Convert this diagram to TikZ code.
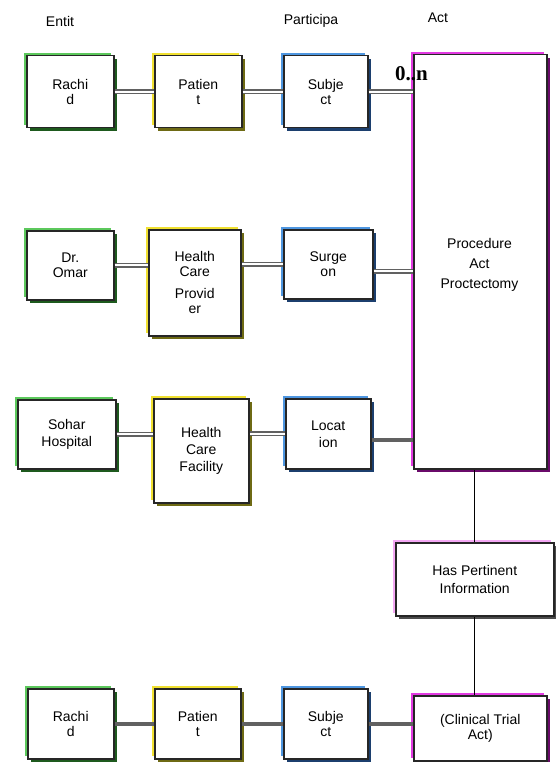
\documentclass[tikz,border=0pt]{standalone}
\usepackage{fontspec}
\setmainfont{Liberation Sans}
\newfontfamily\multfont{Liberation Serif}
\usetikzlibrary{shadows}

% role-class colours: light edge (top left) and dark edge (bottom right)
\definecolor{entLt}{HTML}{5CC85C}
\definecolor{entDk}{HTML}{1E5A1E}
\definecolor{rolLt}{HTML}{F0E030}
\definecolor{rolDk}{HTML}{6E6A14}
\definecolor{parLt}{HTML}{4E96E0}
\definecolor{parDk}{HTML}{1C3F6E}
\definecolor{actLt}{HTML}{E23AE2}
\definecolor{actDk}{HTML}{6A0A6A}
\definecolor{relLt}{HTML}{F4A8F4}

\newcommand\bxfont{\fontsize{14}{15}\selectfont}

\begin{document}
\begin{tikzpicture}[x=1pt,y=-1pt,
  hdr/.style={font=\bxfont, inner sep=0pt},
  box/.style={draw=black!85, line width=1.5pt, fill=white, inner sep=0pt,
    align=center, font=\bxfont, anchor=north west},
  tinted/.style 2 args={
    general shadow={fill=#1, shadow xshift=-2.8pt, shadow yshift=2.8pt},
    general shadow={fill=#2, shadow xshift=2.8pt, shadow yshift=-2.8pt}},
  entity/.style={box, tinted={entLt}{entDk}},
  role/.style={box, tinted={rolLt}{rolDk}},
  partic/.style={box, tinted={parLt}{parDk}},
  actbox/.style={box, tinted={actLt}{actDk}},
  relbox/.style={box, tinted={relLt}{black!70}},
  dbl/.style={draw=black!62, double=white, double distance=2.4pt, line width=1.4pt},
  heavy/.style={draw=black!62, line width=3.8pt},
  vline/.style={draw=black, line width=1pt},
  mult/.style={font=\multfont\bfseries\fontsize{21}{21}\selectfont, inner sep=0pt}
]
\useasboundingbox (0,0) rectangle (556,762);

% column headings
\node[hdr] (hE) at (60,21) {Entit};
\node[hdr] (hP) at (311,21) {Participa};
\node[hdr] (hA) at (438,18) {Act};

% the act the participations attach to
\node[actbox, minimum width=133pt, minimum height=414pt] (act) at (413,54) {};
\node[font=\bxfont, align=center, inner sep=0pt] (acttxt) at (479.5,265)
  {Procedure\\[5pt]Act\\[5pt]Proctectomy};

% row 1: subject
\node[entity, minimum width=87pt, minimum height=72pt] (r1) at (26,55) {Rachi\\d};
\node[role,   minimum width=87pt, minimum height=72pt] (p1) at (154,55) {Patien\\t};
\node[partic, minimum width=84pt, minimum height=72pt] (s1) at (283,55) {Subje\\ct};

% row 2: surgeon
\node[entity, minimum width=87pt, minimum height=69pt] (omar) at (26,230) {Dr.\\Omar};
\node[role,   minimum width=92pt, minimum height=106pt] (hcp) at (148,229)
  {Health\\Care\\[7pt]Provid\\er};
\node[partic, minimum width=89pt, minimum height=69pt] (surg) at (283,229) {Surge\\on};

% row 3: location
\node[entity, minimum width=98pt, minimum height=69pt] (sohar) at (17,399)
  {Sohar\\[2pt]Hospital};
\node[role,   minimum width=95pt, minimum height=104pt] (hcf) at (153,398)
  {Health\\[2pt]Care\\[2pt]Facility};
\node[partic, minimum width=85pt, minimum height=70pt] (loc) at (285,398) {Locat\\[2pt]ion};

% act relationship
\node[relbox, minimum width=158pt, minimum height=73pt] (hpi) at (395,542)
  {Has Pertinent\\[3pt]Information};

% bottom row: clinical trial
\node[entity, minimum width=86pt, minimum height=70pt] (r2) at (27,688) {Rachi\\d};
\node[role,   minimum width=86pt, minimum height=70pt] (p2) at (154,688) {Patien\\t};
\node[partic, minimum width=84pt, minimum height=70pt] (s2) at (283,688) {Subje\\ct};
\node[actbox, minimum width=133pt, minimum height=65pt] (cta) at (413,695)
  {(Clinical Trial\\Act)};

% cardinality
\node[mult, anchor=base west] (mn) at (395,81) {0..n};

% connectors, row 1
\draw[dbl] (r1) -- (p1);
\draw[dbl] (p1) -- (s1);
\draw[dbl] (s1.east) -- (s1.east -| act.west);

% connectors, row 2
\draw[dbl] (omar.east) -- (omar.east -| hcp.west);
\draw[dbl] (surg.west) -- (surg.west -| hcp.east);
\coordinate (se) at ([yshift=-7pt]surg.east);
\draw[dbl] (se) -- (se -| act.west);

% connectors, row 3
\draw[dbl] (sohar.east) -- (sohar.east -| hcf.west);
\draw[dbl] (loc.west) -- (loc.west -| hcf.east);
\coordinate (le) at ([yshift=-6pt]loc.east);
\draw[heavy] (le) -- (le -| act.west);

% act relationship links
\draw[vline] (hpi.north) -- (hpi.north |- act.south);
\draw[vline] (hpi.south) -- (hpi.south |- cta.north);

% connectors, bottom row
\draw[heavy] (r2) -- (p2);
\draw[heavy] (p2) -- (s2);
\draw[heavy] (s2.east) -- (s2.east -| cta.west);
\end{tikzpicture}
\end{document}
